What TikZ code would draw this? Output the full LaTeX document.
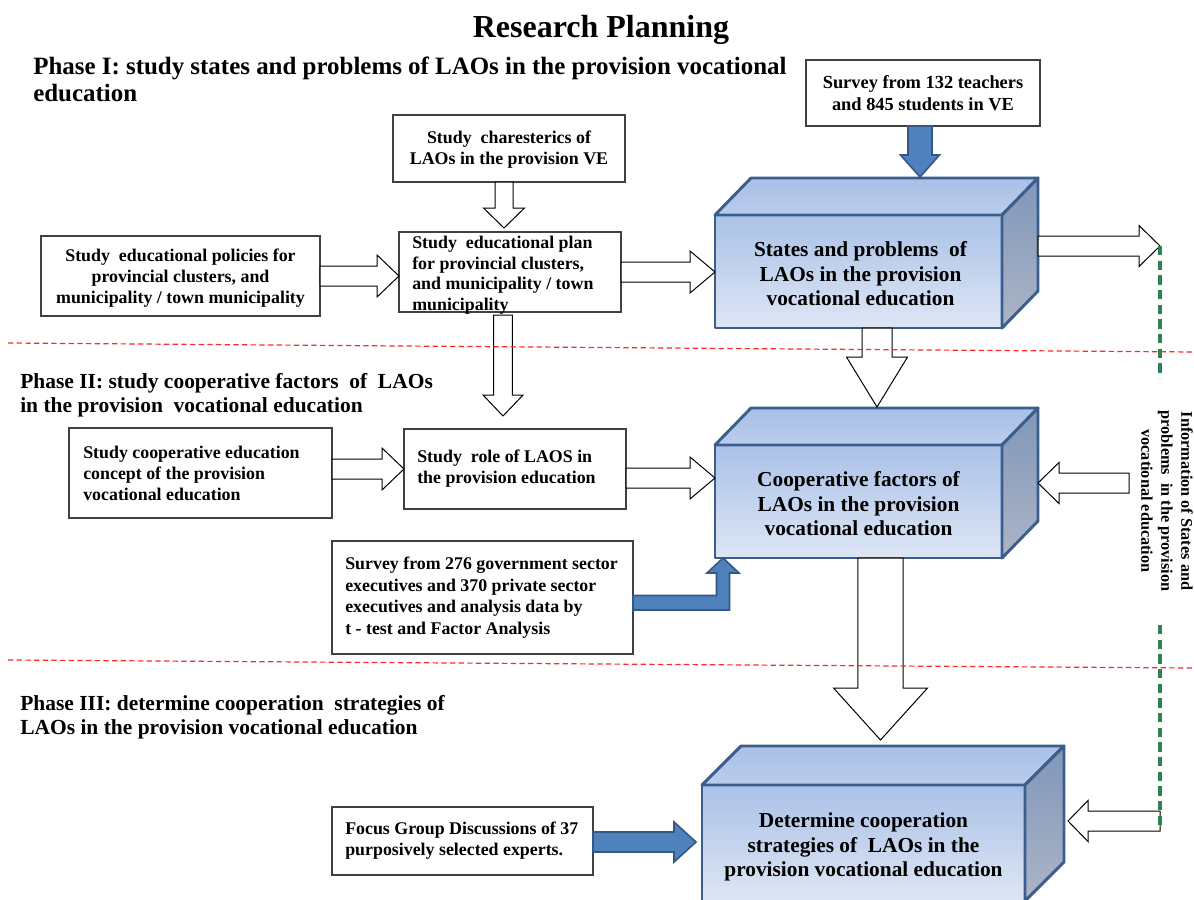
\documentclass[tikz,border=0pt]{standalone}
\usepackage{fontspec}
\setmainfont{Liberation Serif}
\usetikzlibrary{calc}

\definecolor{cubeedge}{RGB}{59,94,140}
\definecolor{cfrontT}{RGB}{170,193,231}
\definecolor{cfrontB}{RGB}{222,230,245}
\definecolor{ctopB}{RGB}{168,191,231}
\definecolor{ctopF}{RGB}{188,205,236}
\definecolor{csideT}{RGB}{128,150,186}
\definecolor{csideB}{RGB}{172,181,198}
\definecolor{bluefill}{RGB}{79,129,189}
\definecolor{blueedge}{RGB}{52,88,133}
\definecolor{gdash}{RGB}{47,128,85}
\definecolor{rdash}{RGB}{255,40,40}

% block arrow: style, start, end, shaft half width, head half width, head length
\newcommand{\blockarrow}[6]{%
  \coordinate (hb) at ($(#3)!#6!(#2)$);
  \draw[#1] ($(#2)!#4!90:(#3)$) -- ($(hb)!#4!90:(#3)$) -- ($(hb)!#5!90:(#3)$) -- (#3)
    -- ($(hb)!#5!-90:(#3)$) -- ($(hb)!#4!-90:(#3)$) -- ($(#2)!#4!-90:(#3)$) -- cycle;}

\tikzset{
  box/.style={draw=black!75, line width=0.8pt, fill=white, rectangle, inner sep=0pt, outer sep=0pt},
  btxt/.style={font=\bfseries\fontsize{13.4}{15.75}\selectfont, inner sep=0pt},
  hollow/.style={draw=black, line width=0.75pt, fill=white},
  solidblue/.style={draw=blueedge, line width=1.2pt, fill=bluefill},
  cubefront/.style={draw=cubeedge, line width=2.2pt, line join=round, top color=cfrontT, bottom color=cfrontB,
     inner sep=0pt, outer sep=0pt},
  cubetxt/.style={align=center, inner sep=0pt, font=\bfseries\fontsize{16}{18.4}\selectfont},
  cubetop/.style={draw=cubeedge, line width=2.2pt, line join=round, top color=ctopB, bottom color=ctopF},
  cubeside/.style={draw=cubeedge, line width=2.2pt, line join=round, top color=csideT, bottom color=csideB},
  phase/.style={anchor=base west, align=left, inner sep=0pt},
  gline/.style={draw=gdash, line width=3pt, dash pattern=on 7pt off 4pt},
  rline/.style={draw=rdash, line width=0.9pt, dash pattern=on 4pt off 2.5pt},
}

\begin{document}
\begin{tikzpicture}[x=0.75pt,y=-0.75pt]
\useasboundingbox (0,0) rectangle (1194,899);
\clip (0,0) rectangle (1194,899);
\fill[white] (0,0) rectangle (1194,899);

% title and phase headings (base anchor = baseline of last line)
\node[anchor=base, inner sep=0pt, font=\bfseries\fontsize{24}{28}\selectfont] (title) at (601,38) {Research Planning};
\node[phase, font=\bfseries\fontsize{18.7}{19.8}\selectfont] (ph1) at (33,101)
  {Phase I: study states and problems of LAOs in the provision vocational\\education};
\node[phase, font=\bfseries\fontsize{16.1}{18}\selectfont] (ph2) at (20,412)
  {Phase II: study cooperative factors\ \ of\ \ LAOs\\in the provision\ \ vocational education};
\node[phase, font=\bfseries\fontsize{16.1}{17.5}\selectfont] (ph3) at (20,734)
  {Phase III: determine cooperation\ \ strategies of\\LAOs in the provision vocational education};

% plain boxes
\node[box, minimum width=174pt, minimum height=50.25pt] (A) at (509,148.5) {};
\node[btxt, align=center] (At) at ($(A)+(0,1)$) {Study\ \ charesterics of\\LAOs in the provision VE};

\node[box, minimum width=166.5pt, minimum height=60pt] (B) at (510,272) {};
\node[btxt, align=left, anchor=west, font=\bfseries\fontsize{13.4}{15.4}\selectfont] (Bt) at ($(B.west)+(13,3)$)
  {Study\ \ educational plan\\for provincial clusters,\\and municipality / town\\municipality};

\node[box, minimum width=209.25pt, minimum height=60pt] (C) at (180.5,276) {};
\node[btxt, align=center] (Ct) at ($(C)+(0,2)$) {Study\ \ educational policies for\\provincial clusters, and\\municipality / town municipality};

\node[box, minimum width=175.5pt, minimum height=49.5pt] (S1) at (923,93) {};
\node[btxt, align=center, font=\bfseries\fontsize{13.8}{16.5}\selectfont] (S1t) at (S1) {Survey from 132 teachers\\and 845 students in VE};

\node[box, minimum width=197.25pt, minimum height=67.5pt] (D) at (200.5,473) {};
\node[btxt, align=left, anchor=west] (Dt) at ($(D.west)+(14,0)$)
  {Study cooperative education\\concept of the provision\\vocational education};

\node[box, minimum width=166.5pt, minimum height=60pt] (E) at (515,469) {};
\node[btxt, align=left, anchor=west] (Et) at ($(E.west)+(13,0)$)
  {Study\ \ role of LAOS in\\the provision education};

\node[box, minimum width=225.75pt, minimum height=84.75pt] (F) at (482.5,597.5) {};
\node[btxt, align=left, anchor=west, font=\bfseries\fontsize{13.4}{16.2}\selectfont] (Ft) at ($(F.west)+(13,0)$)
  {Survey from 276 government sector\\executives and 370 private sector\\executives and analysis data by\\t - test and Factor Analysis};

\node[box, minimum width=195.75pt, minimum height=51pt] (G) at (462.5,841) {};
\node[btxt, align=left, anchor=west] (Gt) at ($(G.west)+(13,0)$)
  {Focus Group Discussions of 37\\purposively selected experts.};

% cubes
\node[cubefront, minimum width=215.25pt, minimum height=84.75pt] (c1) at (858.5,271.5) {};
\draw[cubetop] (c1.north west) -- ++(36,-37) -- ($(c1.north east)+(36,-37)$) -- (c1.north east) -- cycle;
\draw[cubeside] (c1.north east) -- ++(36,-37) -- ($(c1.south east)+(36,-37)$) -- (c1.south east) -- cycle;
\node[cubetxt] (c1t) at ($(c1)+(2,2.5)$) {States and problems\ \ of\\LAOs in the provision\\vocational education};

\node[cubefront, minimum width=215.25pt, minimum height=84.75pt] (c2) at (858.5,501.5) {};
\draw[cubetop] (c2.north west) -- ++(36,-37) -- ($(c2.north east)+(36,-37)$) -- (c2.north east) -- cycle;
\draw[cubeside] (c2.north east) -- ++(36,-37) -- ($(c2.south east)+(36,-37)$) -- (c2.south east) -- cycle;
\node[cubetxt] (c2t) at ($(c2)+(0,2.5)$) {Cooperative factors of\\LAOs in the provision\\vocational education};

\node[cubefront, minimum width=242.25pt, minimum height=87pt] (c3) at (863.5,843) {};
\draw[cubetop] (c3.north west) -- ++(39,-39) -- ($(c3.north east)+(39,-39)$) -- (c3.north east) -- cycle;
\draw[cubeside] (c3.north east) -- ++(39,-39) -- ($(c3.south east)+(39,-39)$) -- (c3.south east) -- cycle;
\node[cubetxt] (c3t) at ($(c3)+(0,4)$) {Determine cooperation\\strategies of\ \ LAOs in the\\provision vocational education};

% vertical side note
\node[rotate=-90, align=center, inner sep=0pt, font=\bfseries\fontsize{12.2}{15}\selectfont] (vt) at (1167,501)
  {Information of States and\\problems\ \ in the provision\\vocational education};

% helper coordinates
\coordinate (g1) at (1160,246);
\coordinate (g1b) at (1160,378);
\coordinate (g2) at (1160,625);
\coordinate (g2b) at (1160,830);
\coordinate (c1back) at ($(c1.east)+(36,0)$);
\coordinate (ab1) at ($(A.south)+(-5,0)$);
\coordinate (ab2) at ($(B.north)+(-6,-4)$);
\coordinate (cb1) at (C.east);
\coordinate (cb2) at (C.east -| B.west);
\coordinate (bc1) at (B.east);
\coordinate (bc2) at (B.east -| c1.west);
\coordinate (cr1) at (g1 -| c1back);
\coordinate (be1) at ($(B.south)+(-7,3)$);
\coordinate (be2) at ($(E.north)+(-12,-13)$);
\coordinate (de1) at (D.east |- E.west);
\coordinate (de2) at (E.west);
\coordinate (ec1) at ($(E.east)+(0,9)$);
\coordinate (ec2) at (ec1 -| c2.west);
\coordinate (sc1) at ($(S1.south)+(-3,0)$);
\coordinate (sc2) at ($(sc1 |- c1.north)+(0,-38)$);
\coordinate (cc1) at ($(c1.south)+(18.5,0)$);
\coordinate (cc2) at ($(cc1 |- c2.north)+(0,-38)$);
\coordinate (cd1) at ($(c2.south)+(22,0)$);
\coordinate (cd2) at ($(cd1 |- c3.north)+(0,-45)$);
\coordinate (vc1) at (1129,483);
\coordinate (vc2) at (vc1 -| c1back);
\coordinate (gc1) at (1160,821);
\coordinate (gc2) at (1068,821);
\coordinate (gg1) at (G.east |- 0,842);
\coordinate (gg2) at ($(gg1 -| c3.west)+(-6,0)$);
\coordinate (tipF) at ($(c2.south west)+(8,0)$);

% hollow arrows
\blockarrow{hollow}{ab1}{ab2}{6.75pt}{15.4pt}{15pt}
\blockarrow{hollow}{cb1}{cb2}{7.5pt}{15.75pt}{16.5pt}
\blockarrow{hollow}{bc1}{bc2}{7.5pt}{15.75pt}{18.75pt}
\blockarrow{hollow}{cr1}{g1}{7.5pt}{15.4pt}{15.75pt}
\blockarrow{hollow}{be1}{be2}{7pt}{15pt}{15.75pt}
\blockarrow{hollow}{de1}{de2}{7.5pt}{15.75pt}{16.5pt}
\blockarrow{hollow}{ec1}{ec2}{7.5pt}{15.75pt}{18.75pt}
\blockarrow{hollow}{cc1}{cc2}{11.25pt}{22.9pt}{37.5pt}
\blockarrow{hollow}{cd1}{cd2}{16.9pt}{35.25pt}{39pt}
\blockarrow{hollow}{vc1}{vc2}{7.5pt}{15.4pt}{15.75pt}
\blockarrow{hollow}{gc1}{gc2}{7.5pt}{15.4pt}{15pt}

% solid blue arrows
\blockarrow{solidblue}{sc1}{sc2}{9pt}{14.6pt}{16.5pt}
\blockarrow{solidblue}{gg1}{gg2}{7.5pt}{15pt}{16.5pt}
\draw[solidblue] ($(F.east)+(0,-2)$) -- ($(tipF)+(-6.5,37.5)$) -- ($(tipF)+(-6.5,15)$) -- ($(tipF)+(-16,15)$)
  -- (tipF) -- ($(tipF)+(16,15)$) -- ($(tipF)+(6.5,15)$) -- ($(tipF)+(6.5,52)$) -- ($(F.east)+(0,12.5)$) -- cycle;

% green dashed lines
\draw[gline] (g1) -- (g1b);
\draw[gline] (g2) -- (g2b);

% red phase separators
\coordinate (r1a) at (8,343);
\coordinate (r1b) at (1194,352);
\coordinate (r2a) at (8,660);
\coordinate (r2b) at (1194,668);
\draw[rline] (r1a) -- (r1b);
\draw[rline] (r2a) -- (r2b);
\end{tikzpicture}
\end{document}
